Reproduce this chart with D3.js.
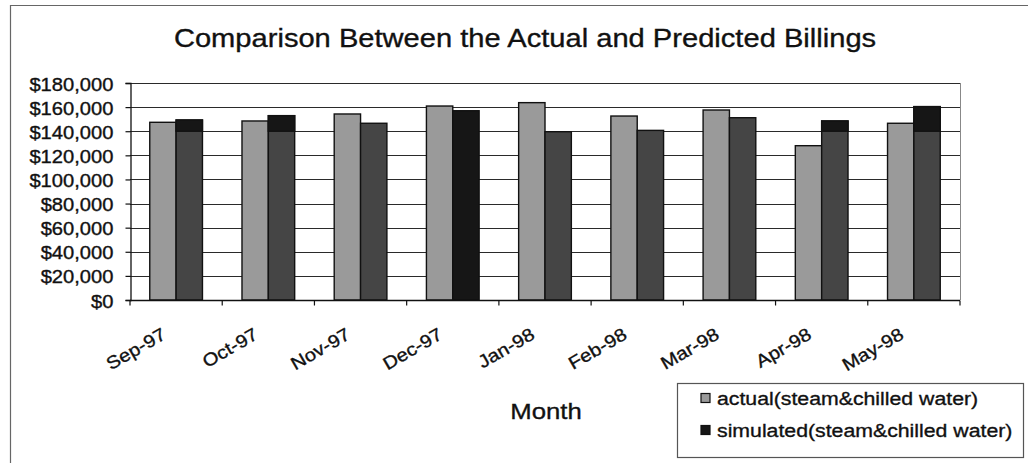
<!DOCTYPE html>
<html>
<head>
<meta charset="utf-8">
<script src="https://cdn.jsdelivr.net/npm/d3@7"></script>
<style>
  html, body { margin: 0; padding: 0; background: #fff; }
  svg { display: block; }
  text { font-family: "Liberation Sans", Arial, sans-serif; fill: #111; stroke: #111; stroke-width: 0.35px; }
</style>
</head>
<body>
<svg id="chart" width="1028" height="463"></svg>
<script>
// Monthly billing data (steam & chilled water)
const months = ["Sep-97", "Oct-97", "Nov-97", "Dec-97", "Jan-98", "Feb-98", "Mar-98", "Apr-98", "May-98"];
const actual = [147400, 148500, 154300, 160900, 163700, 152600, 157600, 128000, 146600];
const simulated = [149300, 152900, 146600, 157000, 139600, 140700, 151200, 148500, 160400];
const seriesNames = ["actual(steam&chilled water)", "simulated(steam&chilled water)"];
const yTicks = [0, 20000, 40000, 60000, 80000, 100000, 120000, 140000, 160000, 180000];

const svg = d3.select("#chart");
const W = 1028, H = 463;
const plot = { left: 130, right: 960, top: 83, bottom: 300 };
const sx = 1.12; // horizontal widening applied to all text

const colActual = "#9a9a9a";
const colSim = "#454545";
const colSimDeep = "#161616";
const deepFrom = 140000;                                  // level above which the tops print darker
const deepTopMonths = ["Sep-97", "Oct-97", "Apr-98", "May-98"];
const deepMonth = "Dec-97";                                // this simulated bar prints fully dark

// Chart area frame
svg.append("rect").attr("x", 0).attr("y", 0).attr("width", W).attr("height", H).attr("fill", "#fff");
svg.append("line").attr("x1", 10).attr("x2", W).attr("y1", 5.5).attr("y2", 5.5).attr("stroke", "#666").attr("stroke-width", 1.2);
svg.append("line").attr("x1", 10.5).attr("x2", 10.5).attr("y1", 5).attr("y2", H).attr("stroke", "#666").attr("stroke-width", 1.2);

// Scales
const y = d3.scaleLinear().domain([0, 180000]).range([plot.bottom, plot.top]);
const x0 = d3.scaleBand().domain(months).range([plot.left, plot.right]).padding(0);
const x1 = d3.scaleBand().domain([0, 1]).range([0, x0.bandwidth()]).paddingInner(0).paddingOuter(0.75);

// Gridlines
svg.append("g").selectAll("line").data(yTicks).join("line")
  .attr("x1", plot.left).attr("x2", plot.right)
  .attr("y1", d => Math.round(y(d)) + 0.5).attr("y2", d => Math.round(y(d)) + 0.5)
  .attr("stroke", "#2a2a2a").attr("stroke-width", 1.2);

// Right plot border
svg.append("line").attr("x1", plot.right + 0.5).attr("x2", plot.right + 0.5)
  .attr("y1", y(180000)).attr("y2", plot.bottom).attr("stroke", "#888").attr("stroke-width", 1);

// Y axis
const yAxis = d3.axisLeft(y).tickValues(yTicks).tickSize(5).tickPadding(12)
  .tickFormat(d => "$" + d3.format(",")(d));
const gy = svg.append("g").attr("transform", `translate(${plot.left + 0.5},0)`).call(yAxis);
gy.select(".domain").attr("stroke", "#111").attr("stroke-width", 1.3);
gy.selectAll(".tick line").attr("stroke", "#111").attr("stroke-width", 1.2);
gy.selectAll(".tick text")
  .attr("font-size", 18).attr("fill", "#111").attr("font-family", "Liberation Sans, Arial, sans-serif")
  .attr("dy", null).attr("y", 0)
  .attr("transform", function() {
    const x = +d3.select(this).attr("x");
    d3.select(this).attr("x", 0);
    return `translate(${x},7) scale(${sx},1)`;
  });

// Bars
const groups = svg.append("g").selectAll("g").data(months).join("g")
  .attr("transform", d => `translate(${x0(d)},0)`);

groups.append("rect")
  .attr("x", x1(0)).attr("width", x1.bandwidth())
  .attr("y", (d, i) => y(actual[i])).attr("height", (d, i) => y(0) - y(actual[i]))
  .attr("fill", colActual).attr("stroke", "#111").attr("stroke-width", 1.4);

groups.append("rect")
  .attr("x", x1(1)).attr("width", x1.bandwidth())
  .attr("y", (d, i) => y(simulated[i])).attr("height", (d, i) => y(0) - y(simulated[i]))
  .attr("fill", d => d === deepMonth ? colSimDeep : colSim).attr("stroke", "#111").attr("stroke-width", 1.4);

// Darker upper portion of some simulated bars above the $140,000 line
groups.filter((d, i) => simulated[i] > deepFrom && deepTopMonths.includes(d)).append("rect")
  .attr("x", x1(1)).attr("width", x1.bandwidth())
  .attr("y", d => y(simulated[months.indexOf(d)]))
  .attr("height", d => y(deepFrom) - y(simulated[months.indexOf(d)]))
  .attr("fill", colSimDeep).attr("stroke", "#111").attr("stroke-width", 1.4);

// X axis
const gx = svg.append("g").attr("transform", `translate(0,${plot.bottom + 0.5})`);
gx.append("line").attr("x1", plot.left).attr("x2", plot.right).attr("stroke", "#111").attr("stroke-width", 1.4);
const boundaries = months.map(m => x0(m)).concat([plot.right]);
gx.selectAll("line.tk").data(boundaries).join("line").attr("class", "tk")
  .attr("x1", d => d).attr("x2", d => d).attr("y1", 0).attr("y2", 5)
  .attr("stroke", "#111").attr("stroke-width", 1.2);

svg.append("g").selectAll("text").data(months).join("text")
  .attr("transform", d => `translate(${x0(d) + x0.bandwidth() / 2 - 9},338) rotate(-30) scale(${sx},1)`)
  .attr("text-anchor", "end").attr("font-size", 18)
  .text(d => d);

// Title
svg.append("text")
  .attr("transform", `translate(525,47) scale(${sx},1)`)
  .attr("text-anchor", "middle").attr("font-size", 26)
  .text("Comparison Between the Actual and Predicted Billings");

// Axis title
svg.append("text")
  .attr("transform", `translate(546,419) scale(${sx},1)`)
  .attr("text-anchor", "middle").attr("font-size", 23)
  .text("Month");

// Legend
const lg = svg.append("g");
lg.append("rect").attr("x", 677.5).attr("y", 383.5).attr("width", 346).attr("height", 74)
  .attr("fill", "#fff").attr("stroke", "#555").attr("stroke-width", 1.2);
const legendRows = [398, 430];
const legendColors = [colActual, colSimDeep];
seriesNames.forEach((name, i) => {
  lg.append("rect").attr("x", 701).attr("y", legendRows[i] - 4.5).attr("width", 9).attr("height", 9)
    .attr("fill", legendColors[i]).attr("stroke", "#111").attr("stroke-width", 1.2);
  lg.append("text").attr("transform", `translate(717,${legendRows[i] + 6.5}) scale(${sx},1)`)
    .attr("font-size", 19).text(name);
});
</script>
</body>
</html>
